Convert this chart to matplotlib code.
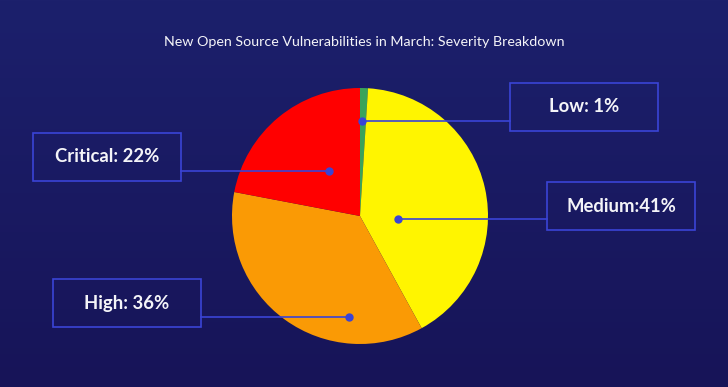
import numpy as np
import matplotlib.pyplot as plt
from matplotlib.patches import Rectangle

# data
labels = ['Low', 'Medium', 'High', 'Critical']
values = [1, 41, 36, 22]
colors = ['#3aa35a', '#fff500', '#fa9a05', '#ff0000']
box_text = ['Low: 1%', 'Medium:41%', 'High: 36%', 'Critical: 22%']

# layout (pixel coords, y from top): dot position, box left/top
dots = [(362, 121), (398, 219), (349, 317), (329, 171)]
boxes = [(510, 83), (547, 182), (53, 279), (33, 133)]
box_w, box_h = 148, 48

W, H = 728, 387
fig = plt.figure(figsize=(W / 100, H / 100), dpi=100)
ax = fig.add_axes([0, 0, 1, 1])

# background gradient
grad = np.linspace(0, 1, 256).reshape(-1, 1)
top = np.array([0x1c, 0x20, 0x6c]) / 255
bot = np.array([0x17, 0x14, 0x58]) / 255
img = top + (bot - top) * grad[..., None]
ax.imshow(img, extent=[0, W, 0, H], origin='upper', aspect='auto', zorder=0)

ax.pie(values, colors=colors, startangle=90, counterclock=False,
       center=(360, H - 216), radius=128, frame=True,
       wedgeprops=dict(linewidth=0, zorder=1))
ax.set_xlim(0, W)
ax.set_ylim(0, H)
ax.set_aspect('auto')
ax.axis('off')

line_c = '#3a44d6'
for (dx, dy), (bx, by), t in zip(dots, boxes, box_text):
    cy = by + box_h / 2
    edge = bx if bx > dx else bx + box_w
    ax.plot([dx, edge], [H - dy, H - dy], color=line_c, lw=1.2, zorder=3)
    ax.plot(dx, H - dy, 'o', color=line_c, ms=5, zorder=4)
    ax.add_patch(Rectangle((bx, H - by - box_h), box_w, box_h, fill=False,
                           edgecolor=line_c, lw=1.2, zorder=3))
    ax.text(bx + box_w / 2, H - cy, t, color='#f4f4f8', fontsize=13.3,
            fontweight='bold', family='Lato', ha='center', va='center', zorder=5)

ax.text(364, H - 42, 'New Open Source Vulnerabilities in March: Severity Breakdown',
        color='#f4f4f8', fontsize=10.3, family='Lato', ha='center', va='center')

fig.savefig('out.png', dpi=100)
